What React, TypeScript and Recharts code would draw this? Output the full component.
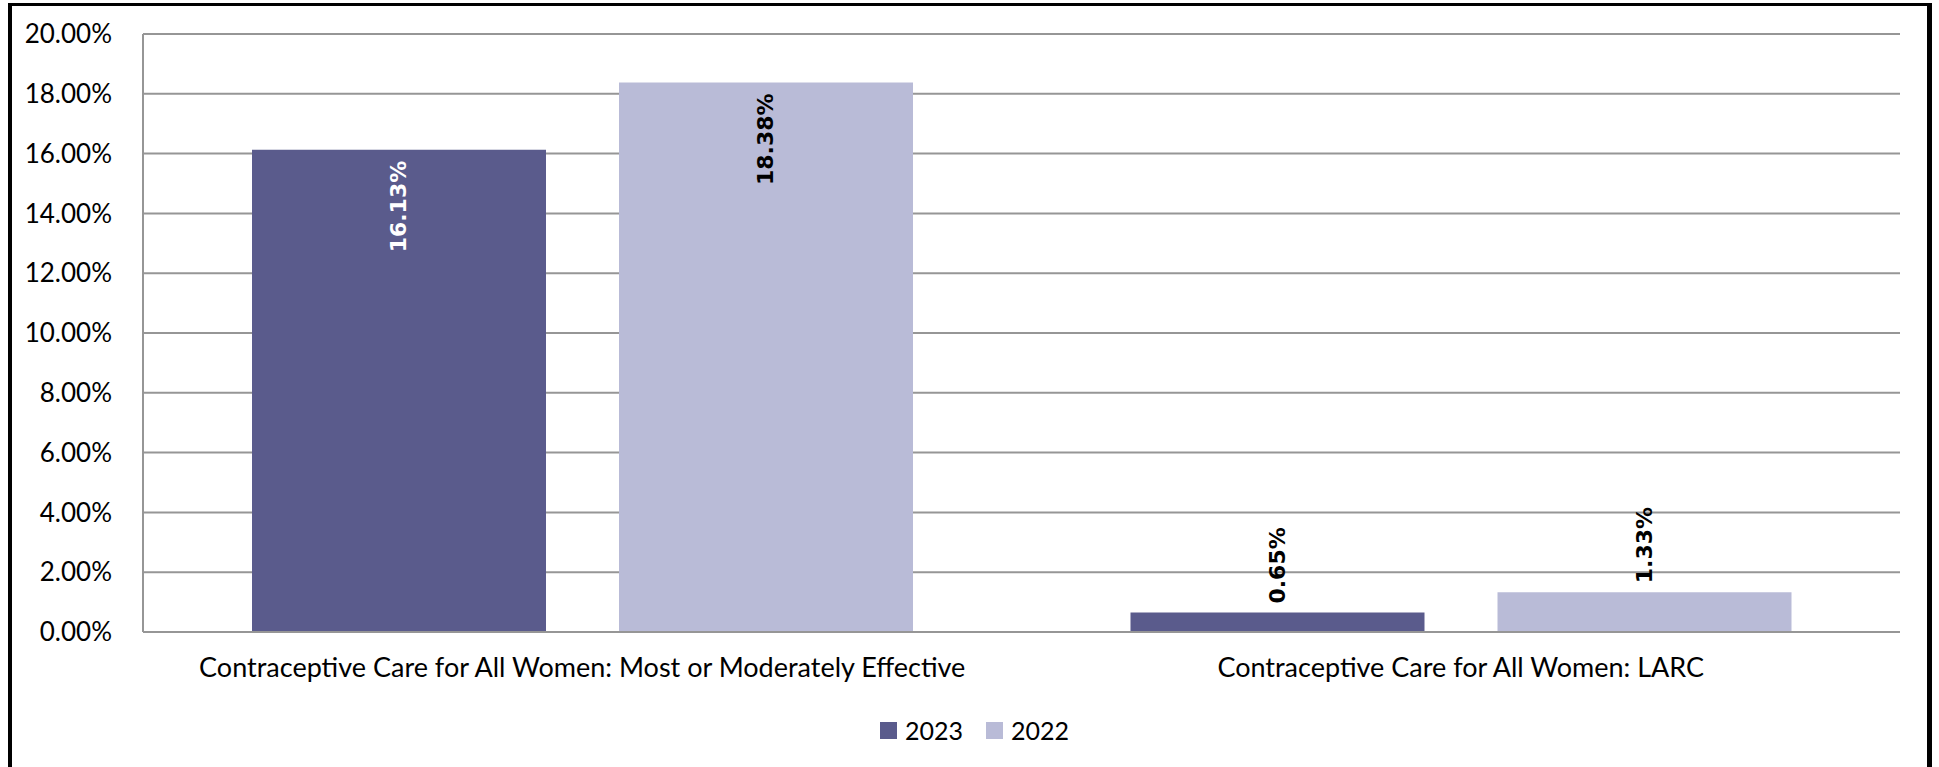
import { Bar, BarChart, CartesianGrid, LabelList, XAxis, YAxis } from 'recharts'

const categories = [
  'Contraceptive Care for All Women: Most or Moderately Effective',
  'Contraceptive Care for All Women: LARC',
]
const values2023 = [16.13, 0.65]
const values2022 = [18.38, 1.33]
const yTicks = [0, 2, 4, 6, 8, 10, 12, 14, 16, 18, 20]

const seriesNames = ['2023', '2022']
const seriesColors = ['#5a5b8c', '#b9bbd7']
const insideLabelColors = ['#ffffff', '#000000']

const data = categories.map((name, i) => ({ name, y2023: values2023[i], y2022: values2022[i] }))

const FONT = 'Lato, "Open Sans", sans-serif'
const GRID = '#969696'

function makeLabel(insideColor: string) {
  return function BarLabel(props: any) {
    const { x, y, width, height, value } = props
    const cx = Number(x) + Number(width) / 2
    const top = Number(y)
    const inside = Number(height) > 120
    const ay = inside ? top + 11 : top - 9
    return (
      <text
        x={cx}
        y={ay}
        transform={`rotate(-90, ${cx}, ${ay})`}
        textAnchor={inside ? 'end' : 'start'}
        dominantBaseline="central"
        fill={inside ? insideColor : '#000000'}
        fontFamily='"DejaVu Sans", Verdana, sans-serif'
        fontWeight="bold"
        fontSize={22}
      >
        {`${Number(value).toFixed(2)}%`}
      </text>
    )
  }
}

export default function App() {
  return (
    <div style={{ position: 'absolute', left: 0, top: 0, width: 1939, height: 767, overflow: 'hidden', background: '#fff' }}>
      <div
        style={{
          position: 'absolute',
          left: 8,
          top: 3,
          width: 1924,
          height: 820,
          boxSizing: 'border-box',
          borderLeft: '4px solid #000',
          borderRight: '5px solid #000',
          borderTop: '3px solid #000',
        }}
      />
      <div style={{ position: 'absolute', left: 0, top: 0 }}>
        <BarChart
          width={1939}
          height={767}
          data={data}
          margin={{ top: 34, right: 39, bottom: 95, left: 23 }}
          barCategoryGap={109}
          barGap={73}
        >
          <CartesianGrid vertical={false} stroke={GRID} strokeWidth={2} />
          <XAxis
            dataKey="name"
            height={40}
            tickLine={false}
            tickSize={0}
            tickMargin={26}
            axisLine={{ stroke: GRID, strokeWidth: 2 }}
            tick={{ fill: '#000', fontSize: 27, fontFamily: FONT }}
            interval={0}
          />
          <YAxis
            width={120}
            domain={[0, 20]}
            ticks={yTicks}
            tickFormatter={(v: number) => `${v.toFixed(2)}%`}
            tickLine={false}
            tickSize={0}
            tickMargin={31}
            axisLine={{ stroke: GRID, strokeWidth: 2 }}
            tick={{ fill: '#000', fontSize: 26, fontFamily: FONT }}
          />
          <Bar dataKey="y2023" name={seriesNames[0]} fill={seriesColors[0]} isAnimationActive={false}>
            <LabelList dataKey="y2023" content={makeLabel(insideLabelColors[0])} />
          </Bar>
          <Bar dataKey="y2022" name={seriesNames[1]} fill={seriesColors[1]} isAnimationActive={false}>
            <LabelList dataKey="y2022" content={makeLabel(insideLabelColors[1])} />
          </Bar>
        </BarChart>
      </div>
      <div
        style={{
          position: 'absolute',
          left: 0,
          top: 712,
          width: 1949,
          height: 36,
          display: 'flex',
          justifyContent: 'center',
          alignItems: 'center',
          gap: 23,
          fontFamily: FONT,
          fontSize: 25,
          color: '#000',
        }}
      >
        {seriesNames.map((s, i) => (
          <div key={s} style={{ display: 'flex', alignItems: 'center', gap: 8 }}>
            <span style={{ display: 'inline-block', width: 17, height: 17, background: seriesColors[i] }} />
            <span>{s}</span>
          </div>
        ))}
      </div>
    </div>
  )
}
